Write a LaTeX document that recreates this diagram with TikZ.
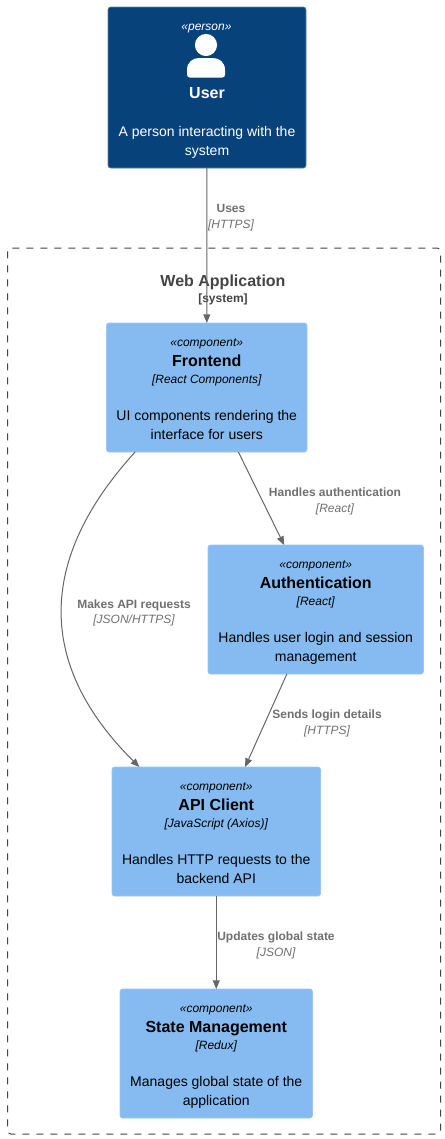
\documentclass[tikz,border=0pt]{standalone}
\usepackage{fontspec}
\setmainfont{Liberation Sans}
\usetikzlibrary{arrows.meta}
\definecolor{personfill}{HTML}{08427B}
\definecolor{personline}{HTML}{5D82A8}
\definecolor{compfill}{HTML}{85BBF0}
\definecolor{compline}{HTML}{9CC6F2}
\definecolor{linkgray}{HTML}{666666}
\definecolor{labelgray}{HTML}{707070}
\definecolor{frame}{HTML}{444444}
\tikzset{
  px/.style={x=0.75pt,y=-0.75pt},
  boxbase/.style={rounded corners=1.9pt,inner sep=0pt,outer sep=0pt,line width=0.5pt},
  compbox/.style={boxbase,fill=compfill,draw=compline},
  personbox/.style={boxbase,fill=personfill,draw=personline},
  txt/.style={anchor=base,inner sep=0pt,outer sep=0pt},
  stereo/.style={txt,font=\fontsize{9}{9}\selectfont\itshape},
  title/.style={txt,font=\fontsize{12}{12}\selectfont\bfseries},
  tech/.style={txt,font=\fontsize{9}{9}\selectfont\itshape},
  desc/.style={txt,font=\fontsize{10.5}{10.5}\selectfont},
  linklabel/.style={txt,text=labelgray,font=\fontsize{9}{9}\selectfont\bfseries},
  linktech/.style={txt,text=labelgray,font=\fontsize{9}{9}\selectfont\itshape},
  link/.style={draw=linkgray,line width=0.75pt,-{Triangle[length=6.5pt,width=5.2pt]}},
  boundary/.style={draw=frame,line width=0.75pt,dash pattern=on 5.25pt off 5.25pt,rounded corners=2.5pt},
}
% name, left, top, right, bottom, stereotype-less title, technology, line 1, line 2
\newcommand{\compnode}[9]{%
  \node[compbox,minimum width={(#4-#2)*0.75pt},minimum height={(#5-#3)*0.75pt}] (#1) at ({(#2+#4)/2},{(#3+#5)/2}) {};
  \node[stereo] (#1-s) at ({(#2+#4)/2},{#3+23}) {«component»};
  \node[title] (#1-n) at ({(#2+#4)/2},{#3+43}) {#6};
  \node[tech] (#1-t) at ({(#2+#4)/2},{#3+60}) {[#7]};
  \node[desc] (#1-a) at ({(#2+#4)/2},{#3+97}) {#8};
  \node[desc] (#1-b) at ({(#2+#4)/2},{#3+116}) {#9};
}
\begin{document}
\begin{tikzpicture}[px]
\fill[white] (0,0) rectangle (445,1139);
\useasboundingbox (0,0) rectangle (445,1139);
% boundary
\draw[boundary] (7.5,248) rectangle (440.5,1134);
\node[txt,text=frame,font=\fontsize{12}{12}\selectfont\bfseries] (webapp) at (223,286) {Web Application};
\node[txt,text=frame,font=\fontsize{9}{9}\selectfont\bfseries] (webapp-s) at (223,302) {[system]};
% person
\node[personbox,minimum width=148.5pt,minimum height=120.75pt] (user) at (207,87.5) {};
\node[stereo,text=white] (user-s) at (206.5,30.5) {«person»};
\fill[white] (206,45) circle (8.3pt);
\fill[white] (190,77.5) .. controls (188,77.5) and (187,76.5) .. (187,74.5) -- (187,70) .. controls (187,62) and (193,58) .. (199,58) -- (213,58) .. controls (219,58) and (225,62) .. (225,70) -- (225,74.5) .. controls (225,76.5) and (224,77.5) .. (222,77.5) -- cycle;
\node[title,text=white] (user-n) at (207,98) {User};
\node[desc,text=white] (user-a) at (207,136) {A person interacting with the};
\node[desc,text=white] (user-b) at (207,155) {system};
% components
\compnode{frontend}{106.5}{323}{307}{452}{Frontend}{React Components}{UI components rendering the}{interface for users}
\compnode{auth}{208}{545}{423.5}{674}{Authentication}{React}{Handles user login and session}{management}
\compnode{api}{112}{767}{320.5}{896}{API Client}{JavaScript (Axios)}{Handles HTTP requests to the}{backend API}
\compnode{state}{120}{989}{312.5}{1118}{State Management}{Redux}{Manages global state of the}{application}
% connectors
\draw[link] (user) -- (frontend);
\draw[link] (frontend) -- (auth);
\draw[link] (auth) -- (api);
\draw[link] (api) -- (state);
\draw[link] (frontend.222.4) .. controls (36.7,560) and (36.7,665) .. (api.140.6);
% connector labels
\node[linklabel] (l1) at (231,212) {Uses};
\node[linktech] (l1t) at (231,228) {[HTTPS]};
\node[linklabel] (l2) at (335,496) {Handles authentication};
\node[linktech] (l2t) at (335,512) {[React]};
\node[linklabel] (l3) at (134,608) {Makes API requests};
\node[linktech] (l3t) at (134,623) {[JSON/HTTPS]};
\node[linklabel] (l4) at (327,718) {Sends login details};
\node[linktech] (l4t) at (327,734) {[HTTPS]};
\node[linklabel] (l5) at (276,940) {Updates global state};
\node[linktech] (l5t) at (276,956) {[JSON]};
\end{tikzpicture}
\end{document}
